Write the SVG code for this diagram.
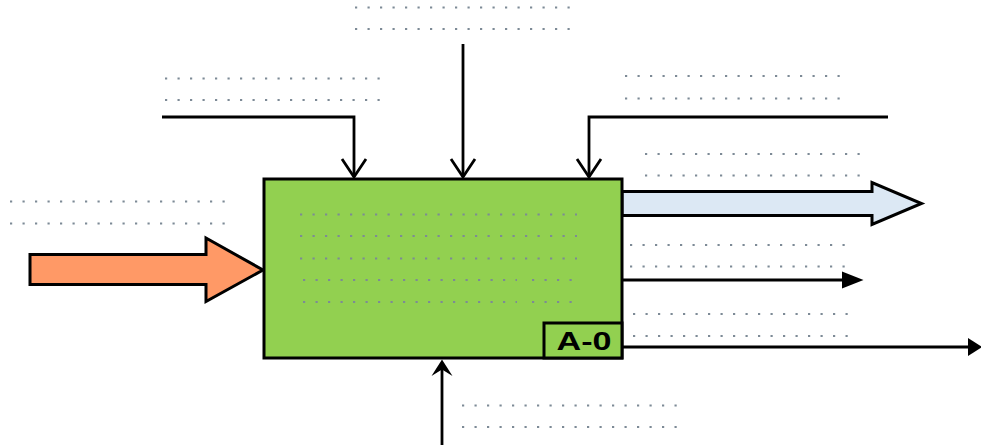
<svg xmlns="http://www.w3.org/2000/svg" width="981" height="445" viewBox="0 0 981 445">
  <style>
    .line { fill: none; stroke: #000; stroke-width: 2.8; }
    .head { fill: #000; stroke: none; }
    .fat { stroke: #000; stroke-width: 3; stroke-linejoin: miter; }
    .dots { stroke: #7d8a96; stroke-width: 2; stroke-dasharray: 2.2 10.3; fill: none; }
    .box { fill: #92d050; stroke: #000; stroke-width: 3; }
    .lbl { font-family: "Liberation Sans", Arial, sans-serif; font-weight: bold; font-size: 25px; fill: #000; }
  </style>
  <defs>
    <marker id="openV" markerUnits="userSpaceOnUse" viewBox="0 0 22 28" markerWidth="22" markerHeight="28" refX="19" refY="14" orient="auto" overflow="visible">
      <path d="M1,2 L19,14 L1,26" fill="none" stroke="#000" stroke-width="2.8"/>
    </marker>
  </defs>

  <g id="labels">
    <line class="dots" x1="355" y1="7.5" x2="570" y2="7.5"/>
    <line class="dots" x1="355" y1="29" x2="570" y2="29"/>
    <line class="dots" x1="165" y1="78.5" x2="380" y2="78.5"/>
    <line class="dots" x1="165" y1="100" x2="380" y2="100"/>
    <line class="dots" x1="625" y1="76" x2="840" y2="76"/>
    <line class="dots" x1="625" y1="98.5" x2="840" y2="98.5"/>
    <line class="dots" x1="645" y1="154" x2="860" y2="154"/>
    <line class="dots" x1="645" y1="175.5" x2="860" y2="175.5"/>
    <line class="dots" x1="10" y1="201.5" x2="225" y2="201.5"/>
    <line class="dots" x1="10" y1="223.5" x2="225" y2="223.5"/>
    <line class="dots" x1="630" y1="245" x2="845" y2="245"/>
    <line class="dots" x1="630" y1="266.5" x2="845" y2="266.5"/>
    <line class="dots" x1="633" y1="314" x2="848" y2="314"/>
    <line class="dots" x1="633" y1="336" x2="848" y2="336"/>
    <line class="dots" x1="462" y1="405.5" x2="677" y2="405.5"/>
    <line class="dots" x1="462" y1="427" x2="677" y2="427"/>
  </g>

  <g id="connectors">
    <path class="line" d="M162,117 H354 V177" marker-end="url(#openV)"/>
    <path class="line" d="M463,44 V177" marker-end="url(#openV)"/>
    <path class="line" d="M888,117 H589 V177" marker-end="url(#openV)"/>
    <path class="line" d="M442,445 V366"/>
    <path class="head" d="M442,359.5 L452.5,376 L442,369.5 L431.5,376 Z"/>
    <path class="line" d="M622,280 H845"/>
    <path class="head" d="M842,271.5 L863.5,280 L842,288.5 Z"/>
    <path class="line" d="M622,347 H970"/>
    <path class="head" d="M968,338 L982,347 L968,356 Z"/>
    <polygon class="fat" fill="#ff9966" points="30,254.5 206,254.5 206,238 263,270 206,301.5 206,284.5 30,284.5"/>
    <polygon class="fat" fill="#dce8f4" points="622,191.5 872,191.5 872,182.5 921.5,203.5 872,224.5 872,215.5 622,215.5"/>
  </g>

  <g id="node-a0">
    <rect class="box" x="264" y="179" width="358" height="179"/>
    <line class="dots" x1="300" y1="214.5" x2="577" y2="214.5" stroke="#5e6b3a"/>
    <line class="dots" x1="300" y1="236" x2="577" y2="236" stroke="#5e6b3a"/>
    <line class="dots" x1="300" y1="258.5" x2="577" y2="258.5" stroke="#5e6b3a"/>
    <line class="dots" x1="303" y1="280" x2="517" y2="280" stroke="#5e6b3a"/>
    <line class="dots" x1="303" y1="302" x2="517" y2="302" stroke="#5e6b3a"/>
    <line class="dots" x1="532" y1="280" x2="573" y2="280" stroke="#5e6b3a" stroke-dasharray="2.2 11.1"/>
    <line class="dots" x1="532" y1="302" x2="573" y2="302" stroke="#5e6b3a" stroke-dasharray="2.2 11.1"/>
    <rect class="box" x="544" y="323" width="78" height="35"/>
    <text class="lbl" x="556.5" y="350" textLength="55" lengthAdjust="spacingAndGlyphs">A-0</text>
  </g>
</svg>
